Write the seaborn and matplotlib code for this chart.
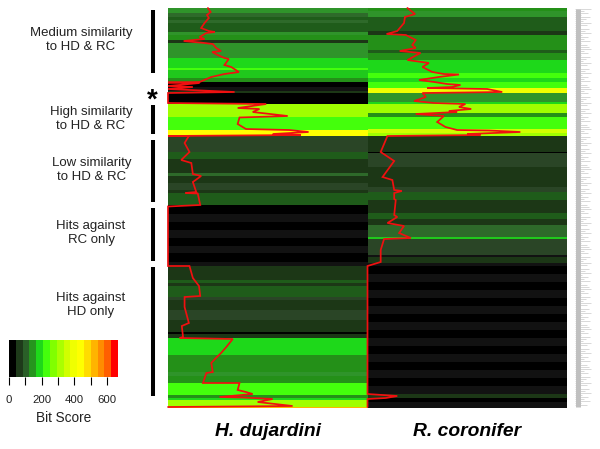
import numpy as np
import pandas as pd
import matplotlib
matplotlib.use("Agg")
import matplotlib.pyplot as plt
from matplotlib.colors import ListedColormap
import seaborn as sns

sns.set_theme(style="white")
plt.rcParams['font.family'] = ['Liberation Sans', 'DejaVu Sans']

species = ["H. dujardini", "R. coronifer"]

# Bit score of each block of hits, with the number of rows per block
hd_scores = [150,115,95,110,90,150,130,60,150,190,230,185,140,10,30,60,10,300,240,430,
             70,85,60,120,60,75,45,100,
             10,30,10,30,10,30,10,30,
             60,85,60,95,70,60,70,55,10,50,
             190,205,145,130,150,130,240,140,200,300,520]
hd_counts = [5,4,3,3,9,3,5,3,15,10,2,8,4,5,4,2,11,13,13,6,
             16,7,14,3,7,7,3,12,
             9,8,8,8,8,7,9,4,
             14,3,3,11,3,10,10,12,2,4,
             3,14,3,14,4,7,12,3,2,7,1]
rc_scores = [140,150,95,55,130,100,140,190,230,200,240,400,150,190,300,130,240,350,300,
             60,10,70,60,55,70,95,60,
             50,100,60,105,170,70,30,60,30,
             10,30,10,30,10,30,10,30,10,30,10,30,10,30,10,30,
             60,10,30]
rc_counts = [3,6,14,4,15,3,7,13,5,4,6,5,9,2,9,4,12,4,3,
             16,1,14,6,14,5,8,5,
             8,6,6,12,2,16,2,6,3,
             8,8,8,8,8,8,8,8,8,8,8,8,8,8,8,8,
             4,4,6]

# Running bit score curves (score, row)
hd_line_score = [130,139,127,133,119,108,133,152,125,103,119,51,119,146,157,173,144,162,184,198,184,206,231,184,141,103,0,103,0,81,0,217,0,0,
                 320,227,298,276,390,287,233,227,254,395,458,341,433,0,
                 68,54,70,43,76,81,108,81,92,57,97,105,0,0,
                 70,81,101,105,54,54,68,45,49,38,211,190,173,156,141,146,125,114,233,227,254,276,168,244,341,292,406,0]
hd_line_row = [0,4,7,10,15,20,23,24,25,29,31,33,35,36,40,43,44,47,50,51,57,59,64,66,69,74,74.5,75,78,79,81,84,85,95,
               96,100,101,104,108,109,109.5,116,121,122,124,126,127,128,
               128,135,144,152,155,166,168,174,184,185,185.5,197,198.5,258,
               258,270,278,288,289,299,315,318,329,330,331,339,345,350,355,364,365,375,375,382,384,386,389,389.5,391,394,398,399]
rc_line_score = [130,155,122,119,97,62,125,157,146,157,105,173,130,200,179,211,249,298,233,168,217,260,303,276,195,390,439,314,179,190,152,217,319,298,338,265,292,157,249,227,254,292,395,498,325,368,65,
                 43,87,49,81,87,112,87,87,92,87,97,65,119,103,141,54,43,43,0,0,97,60,0,0]
rc_line_row = [0,6,9,15,23,26,27,32,37,40,43,45,52,55,59,64,66,66.5,69,72,74,76,77,79,80,81,84,84.5,85,89,93,95,96,99,101,103,104,106,108,114,119,122,122.5,124,126,127,128,
               144,153,169,172,182,183,185,191,192,207,209,215,218,225,230,231,242,254,258,386,388,390,391,399]

tick_values = [0, 100, 200, 300, 400, 500, 600]
tick_labels = ["0", "", "200", "", "400", "", "600"]
score_max = 668
n_bins = 16

legend_colors = ["#000000","#1e3a1a","#2a5f28","#26941e","#1ed81a","#44ff0c","#80ff00","#aaff00",
                 "#d0ff00","#f0ff00","#ffff00","#ffdc00","#ffb400","#ff8c00","#ff5f00","#ff0000"]
first_shades = ["#000000","#1c3716","#1f5c1a","#249018","#20c81c","#36f012","#66ff00","#a0ff00",
                "#d0ff00","#f0ff00","#ffff00","#ffdc00","#ffb400","#ff8c00","#ff5f00","#ff0000"]
second_shades = ["#121212","#2a4526","#2e6a2a","#2f942a","#1ed81a","#44ff0c","#80ff00","#aaff00",
                 "#d0ff00","#f0ff00","#ffff00","#ffdc00","#ffb400","#ff8c00","#ff5f00","#ff0000"]
heat_colors = [c for pair in zip(first_shades, second_shades) for c in pair]

group_labels = ["Medium similarity\nto HD & RC", "High similarity\nto HD & RC", "Low similarity\nto HD & RC",
                "Hits against\nRC only", "Hits against\nHD only"]
group_x = [81, 91, 92, 91, 91]
group_y = [40, 119, 170, 233, 305]
bar_top = [10, 105, 140, 208, 267]
bar_bottom = [73, 134, 202, 261, 396]
id_lengths = [16, 9, 13, 6, 15, 11, 8, 16, 12, 5, 14, 10, 16, 7, 13, 9, 15, 6, 12, 14]

W, H = 600, 449
fig = plt.figure(figsize=(W / 100, H / 100), dpi=100)

def box(x0, y0, x1, y1):
    return [x0 / W, 1 - y1 / H, (x1 - x0) / W, (y1 - y0) / H]

# main heat map
ax = fig.add_axes(box(168, 8, 567, 408))
table = pd.DataFrame({species[0]: np.repeat(hd_scores, hd_counts),
                      species[1]: np.repeat(rc_scores, rc_counts)})
sns.heatmap(table, ax=ax, cmap=ListedColormap(heat_colors), vmin=0, vmax=score_max, cbar=False,
            xticklabels=False, yticklabels=False)
ax.plot(np.array(hd_line_score) / 650, hd_line_row, color="#f01010", lw=1.25, solid_joinstyle="miter", clip_on=False)
ax.plot(1 + np.array(rc_line_score) / 650, rc_line_row, color="#f01010", lw=1.25, solid_joinstyle="miter", clip_on=False)
for s in ax.spines.values():
    s.set_visible(False)

# species names
for name, cx in zip(species, [268, 467]):
    fig.text(cx / W, 1 - 431 / H, name, fontsize=13.9, fontweight="bold", fontstyle="italic",
             ha="center", va="center", color="black")

# group labels and bars
for lab, x, y in zip(group_labels, group_x, group_y):
    fig.text(x / W, 1 - y / H, lab, fontsize=9.5, ha="center", va="center", color="#222222", linespacing=1.25)
over = fig.add_axes([0, 0, 1, 1])
over.set_xlim(0, W)
over.set_ylim(H, 0)
over.axis("off")
over.patch.set_alpha(0)
over.vlines([153] * len(bar_top), bar_top, bar_bottom, color="black", lw=2.9)
over.text(152.5, 101, "*", fontsize=20, fontweight="bold", ha="center", va="center", color="black")

# tiny sequence identifiers strip
rows = np.arange(9, 407, 2.0)
lengths = [id_lengths[i % len(id_lengths)] for i in range(len(rows))]
over.hlines(rows, 575, 575 + np.array(lengths), color="#d8d8d8", lw=0.7)
over.vlines([577.5], 9, 407, color="#c0c0c0", lw=3.6)

# legend
cax = fig.add_axes(box(9, 340, 118, 377))
levels = (np.arange(n_bins) + 0.5) * score_max / n_bins
sns.heatmap(pd.DataFrame([levels]), ax=cax, cmap=ListedColormap(legend_colors), vmin=0, vmax=score_max,
            cbar=False, xticklabels=False, yticklabels=False)
cax.set_xticks(np.array(tick_values) / score_max * n_bins)
cax.set_xticklabels(tick_labels, fontsize=8.2, color="#222222")
cax.tick_params(axis="x", length=6, width=0.8, color="black", pad=7, bottom=True)
cax.set_xlabel("Bit Score", fontsize=9.8, color="#222222", labelpad=4)
for s in cax.spines.values():
    s.set_visible(False)

fig.savefig("out.png", dpi=100)
